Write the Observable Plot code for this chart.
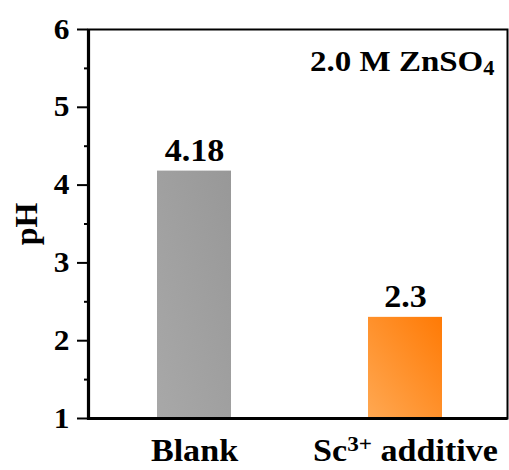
<!DOCTYPE html>
<html>
<head>
<meta charset="utf-8">
<script src="https://cdn.jsdelivr.net/npm/d3@7"></script>
<script src="https://cdn.jsdelivr.net/npm/@observablehq/plot@0.6"></script>
<style>
  html, body { margin: 0; padding: 0; background: #fff; }
  #chart svg { display: block; overflow: visible; }
  #chart svg text { font-family: "Liberation Serif", "Times New Roman", serif; font-weight: bold; }
</style>
</head>
<body>
<div id="chart"></div>
<script>
// Electrolyte pH with and without the Sc3+ additive
const categories = ["Blank", "Sc^{3+} additive"];
const phValues = [4.18, 2.3];
const valueLabels = ["4.18", "2.3"];
const yTicks = [1, 2, 3, 4, 5, 6];
const yMinorTicks = [1.5, 2.5, 3.5, 4.5, 5.5];
const gradientIds = ["grad-blank", "grad-sc"];
const annotation = "2.0 M ZnSO_{4}";

const rows = categories.map((c, i) => ({
  category: c, ph: phValues[i], label: valueLabels[i], fill: `url(#${gradientIds[i]})`
}));

const W = 509, H = 470;
const mL = 88, mR = 2, mT = 29, mB = 52;
const box = (W - mL - mR) + (H - mT - mB);

const plot = Plot.plot({
  width: W,
  height: H,
  marginLeft: mL,
  marginRight: mR,
  marginTop: mT,
  marginBottom: mB,
  style: { fontFamily: "Liberation Serif", fontWeight: "bold", background: "transparent", color: "#000" },
  x: { domain: categories, range: [mL, 511], paddingInner: 0.65, paddingOuter: 0.327, axis: null },
  y: { domain: [1, 6], axis: null, label: null },
  marks: [
    Plot.barY(rows, { x: "category", y1: 1, y2: "ph", fill: "fill" }),
    Plot.text(rows, { x: "category", y: "ph", text: "label", dy: -10, lineAnchor: "bottom", fontSize: 31, fill: "#000" }),
    // category labels under the bars
    Plot.text(rows, { x: "category", text: "category", frameAnchor: "bottom", dy: 42, fontSize: 31, fill: "#000" }),
    // y axis: major ticks with labels, minor ticks without
    Plot.axisY(yTicks, { label: null, tickSize: 11, tickPadding: 8, strokeWidth: 2, fontSize: 28.5, tickFormat: d => String(d) }),
    Plot.axisY(yMinorTicks, { label: null, tickSize: 4, strokeWidth: 2, text: null }),
    // box around the plot area, heavier on the left and bottom
    Plot.frame({ stroke: "#000", strokeWidth: 2 }),
    Plot.frame({ stroke: "#000", strokeWidth: 3.2, strokeDasharray: `0,${box},${box + 4}` }),
    Plot.text(["pH"], { frameAnchor: "left", rotate: -90, textAnchor: "middle", lineAnchor: "middle", dx: -62, fontSize: 32, fill: "#000", text: d => d }),
    Plot.text([annotation], { frameAnchor: "top-right", dx: -13, dy: 20, fontSize: 30, fill: "#000", text: d => d, textAnchor: "end" })
  ]
});

// Gradients for the bar fills
const svg = d3.select(plot);
const defs = svg.insert("defs", ":first-child");
const grads = [
  { id: gradientIds[0], from: "#a8a8a8", to: "#989898" },
  { id: gradientIds[1], from: "#ffa852", to: "#ff7a05" }
];
for (const g of grads) {
  const lg = defs.append("linearGradient").attr("id", g.id)
    .attr("x1", "0").attr("y1", "1").attr("x2", "1").attr("y2", "0");
  lg.append("stop").attr("offset", "0").attr("stop-color", g.from);
  lg.append("stop").attr("offset", "1").attr("stop-color", g.to);
}

// Turn ^{..} and _{..} markup into superscript / subscript tspans
svg.selectAll("text").each(function () {
  const t = d3.select(this);
  const s = this.textContent;
  if (!/[\^_]\{/.test(s)) return;
  t.text(null);
  const re = /([\^_])\{([^}]*)\}/g;
  let last = 0, m;
  while ((m = re.exec(s))) {
    if (m.index > last) t.append("tspan").text(s.slice(last, m.index));
    const sup = m[1] === "^";
    t.append("tspan").attr("font-size", "0.68em")
      .attr("baseline-shift", sup ? "48%" : "-22%").text(m[2]);
    last = re.lastIndex;
  }
  if (last < s.length) t.append("tspan").text(s.slice(last));
});

document.getElementById("chart").appendChild(plot);

// The figure's type is set slightly wide: stretch the upright labels a little
svg.selectAll("text").each(function () {
  const tr = this.getAttribute("transform") || "";
  if (tr.includes("rotate")) return;
  const len = this.getComputedTextLength();
  if (len > 0) {
    this.setAttribute("textLength", (len * 1.1).toFixed(1));
    this.setAttribute("lengthAdjust", "spacingAndGlyphs");
  }
});
</script>
</body>
</html>
